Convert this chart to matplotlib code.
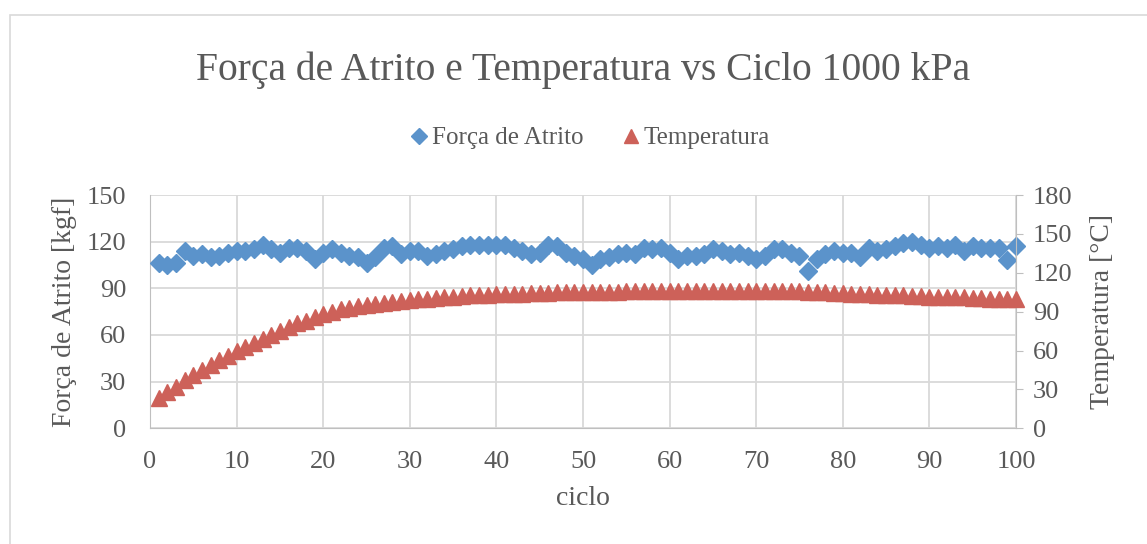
import matplotlib
matplotlib.use("Agg")
import matplotlib.pyplot as plt
from matplotlib.patches import Rectangle
from matplotlib.lines import Line2D

ciclos = list(range(1, 101))

forca_atrito = [
    106, 105, 106, 114, 111, 112, 110, 111, 113, 114,
    114, 115, 118, 115, 113, 116, 116, 114, 109, 113,
    115, 113, 111, 110, 106, 110, 116, 117, 112, 114,
    114, 111, 112, 114, 115, 117, 118, 118, 118, 118,
    118, 116, 114, 112, 113, 118, 117, 113, 111, 109,
    105, 109, 110, 112, 113, 112, 116, 115, 116, 113,
    109, 111, 111, 112, 115, 114, 112, 113, 111, 109,
    111, 115, 115, 113, 111, 101, 109, 112, 114, 113,
    113, 110, 116, 114, 115, 117, 119, 120, 118, 116,
    117, 116, 118, 114, 117, 116, 116, 116, 108, 117,
]

temperatura = [
    23, 28, 32, 37, 41, 45, 49, 53, 56, 60,
    63, 66, 69, 72, 75, 78, 81, 83, 86, 88,
    90, 92, 93, 94, 95, 96, 97, 97.5, 98, 99,
    99.5, 100, 100.5, 101, 101.5, 102, 102.5, 103, 103, 103.5,
    104, 104, 104, 104.5, 104.5, 104.5, 105, 105, 105, 105,
    105.5, 105.5, 105.5, 105.5, 106, 106, 106, 106, 106, 106,
    106, 106, 106, 106, 106, 106, 106, 106, 106, 106,
    106, 106, 106, 106, 106, 105.5, 105, 105, 104.5, 104.5,
    104, 104, 103.5, 103, 103, 102.5, 102.5, 102, 102, 101.5,
    101.5, 101, 101, 101, 100.5, 100.5, 100, 100, 100, 100,
]

left_ticks = [0, 30, 60, 90, 120, 150]
right_ticks = [0, 30, 60, 90, 120, 150, 180]
x_ticks = [0, 10, 20, 30, 40, 50, 60, 70, 80, 90, 100]

blue = "#5b93cb"
red = "#cd6159"
text_gray = "#595959"
grid_gray = "#d9d9d9"
font = ["Liberation Serif", "DejaVu Serif"]
plt.rcParams["font.family"] = font

W, H = 1147, 544
fig = plt.figure(figsize=(W / 100, H / 100), dpi=100)

# chart-area border
fig.patches.append(Rectangle((10 / W, -0.1), 1.2, 1 - 15 / H + 0.1,
                             transform=fig.transFigure, fill=False,
                             edgecolor="#d9d9d9", linewidth=1.2))

ax = fig.add_axes([150 / W, 1 - 428.3 / H, (1016 - 150) / W, (428.3 - 195) / H])
ax2 = ax.twinx()

ax.plot(ciclos, forca_atrito, linestyle="none", marker="D", markersize=9.5,
        color=blue, markeredgecolor=blue, zorder=4, clip_on=False)
ax2.plot(ciclos, temperatura, linestyle="none", marker="^", markersize=11,
         color=red, markeredgecolor=red, zorder=3, clip_on=False)

ax.set_xlim(0, 100)
ax.set_ylim(0, 150)
ax2.set_ylim(0, 180)
ax.set_xticks(x_ticks)
ax.set_yticks(left_ticks)
ax2.set_yticks(right_ticks)

ax.grid(True, color=grid_gray, linewidth=1.3)
ax.set_axisbelow(True)

for a in (ax, ax2):
    for s in a.spines.values():
        s.set_visible(False)
ax.spines["left"].set_visible(True)
ax.spines["left"].set_color("#bfbfbf")
ax.spines["bottom"].set_visible(True)
ax.spines["bottom"].set_color("#bfbfbf")
ax2.spines["right"].set_visible(True)
ax2.spines["right"].set_color("#bfbfbf")

ax.tick_params(axis="y", length=0, labelsize=19, labelcolor=text_gray, pad=17)
ax.tick_params(axis="x", length=0, labelsize=19, labelcolor=text_gray, pad=16)
ax2.tick_params(axis="y", length=5, color="#bfbfbf", labelsize=19,
                labelcolor=text_gray, pad=7)

ax.set_ylabel("Força de Atrito [kgf]", fontsize=20, color=text_gray, labelpad=7)
ax2.set_ylabel("Temperatura [°C]", fontsize=20, color=text_gray, labelpad=13)
ax.set_xlabel("ciclo", fontsize=20, color=text_gray, labelpad=10)

fig.text(583 / W, 1 - 70 / H, "Força de Atrito e Temperatura vs Ciclo 1000 kPa",
         ha="center", va="center", fontsize=28.5, color=text_gray)

handles = [
    Line2D([], [], linestyle="none", marker="D", markersize=8, color=blue),
    Line2D([], [], linestyle="none", marker="^", markersize=10, color=red),
]
fig.legend(handles, ["Força de Atrito", "Temperatura"], loc="center",
           bbox_to_anchor=(588 / W, 1 - 138 / H), ncol=2, frameon=False,
           fontsize=18, labelcolor=text_gray, handletextpad=0.0,
           columnspacing=1.4, handlelength=1.0)

fig.savefig("out.png", dpi=100)
